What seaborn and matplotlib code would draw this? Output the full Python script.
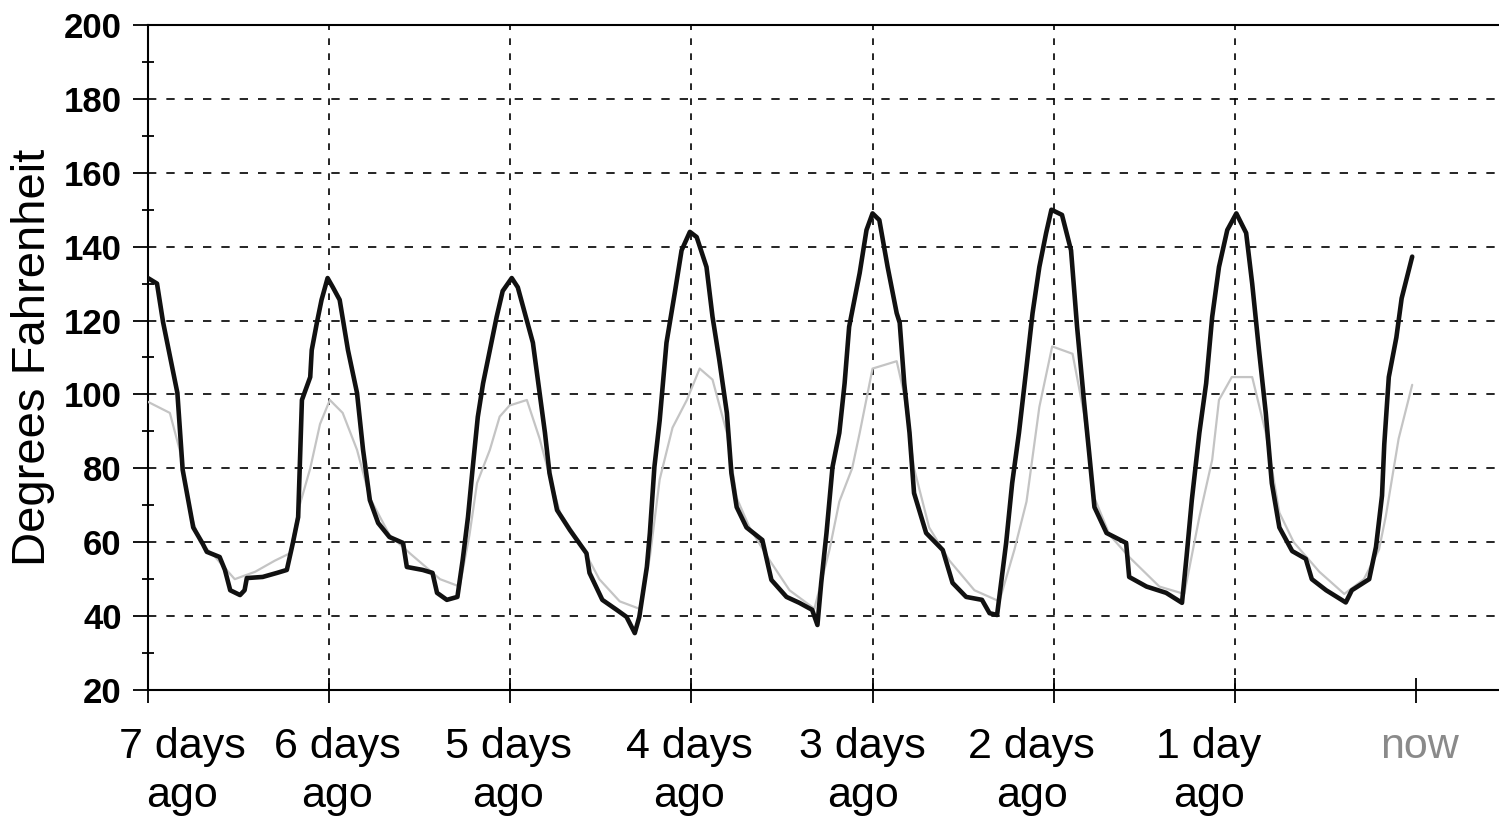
"""Seven-day temperature trace, redrawn with seaborn."""

import matplotlib

matplotlib.use("Agg")
import matplotlib.pyplot as plt
import matplotlib.ticker as mticker
import matplotlib.transforms as mtransforms
import seaborn as sns

# --- data (hours relative to now, degrees F) ---
main_hours = [
    -168.0, -166.8, -166.0, -164.1, -163.4, -162.0, -160.8, -160.2, -158.5, -157.8,
    -157.1, -155.8, -155.2, -154.9, -152.8, -150.9, -149.6, -148.8, -148.1, -147.9,
    -147.6, -146.5, -146.3, -145.6, -145.0, -144.2, -143.5, -142.6, -141.5, -140.3,
    -139.5, -138.6, -137.5, -136.0, -134.2, -133.7, -131.6, -130.3, -129.7, -128.4,
    -127.0, -126.3, -125.6, -125.0, -124.3, -123.6, -122.7, -121.8, -121.0, -119.8,
    -119.0, -117.8, -117.0, -116.1, -115.4, -114.8, -113.8, -112.1, -109.9, -109.5,
    -107.8, -105.9, -104.6, -103.5, -102.9, -101.9, -101.5, -100.9, -100.2, -99.3,
    -98.2, -97.3, -96.2, -95.3, -94.0, -93.2, -92.3, -91.3, -90.7, -90.0,
    -88.7, -86.6, -86.0, -85.4, -83.4, -81.7, -80.0, -79.3, -78.8, -78.1,
    -77.3, -76.4, -75.7, -75.1, -73.7, -72.8, -72.0, -71.1, -70.0, -68.8,
    -68.4, -67.8, -67.1, -66.5, -64.9, -62.7, -61.4, -59.6, -57.5, -56.5,
    -55.5, -54.3, -53.5, -52.6, -51.6, -50.8, -49.9, -49.0, -48.3, -46.9,
    -45.7, -44.9, -44.0, -43.3, -42.6, -41.0, -38.4, -38.0, -35.7, -33.1,
    -31.0, -30.4, -29.7, -28.7, -27.8, -27.0, -26.1, -25.0, -23.8, -22.5,
    -21.7, -20.8, -19.9, -19.1, -18.1, -16.4, -14.6, -13.8, -11.9, -9.3,
    -8.5, -6.2, -5.3, -4.5, -4.2, -3.6, -2.6, -1.9, -0.5,
]
main_temps = [
    131.5, 130.0, 119.6, 100.4, 79.6, 64.0, 59.8, 57.4, 56.0, 52.5,
    47.0, 45.7, 47.0, 50.3, 50.6, 51.7, 52.5, 59.8, 66.8, 79.6,
    98.5, 104.7, 112.0, 119.6, 125.6, 131.5, 129.0, 125.6, 112.0, 100.4,
    85.0, 71.4, 65.2, 61.4, 59.8, 53.3, 52.5, 51.7, 46.3, 44.4,
    45.2, 55.2, 66.8, 79.6, 93.9, 103.0, 112.0, 121.0, 128.0, 131.5,
    129.0, 120.0, 114.0, 100.4, 89.6, 78.7, 68.7, 63.3, 57.0, 51.7,
    44.4, 41.7, 39.8, 35.4, 39.8, 53.3, 62.5, 80.4, 93.0, 114.0,
    127.5, 139.0, 144.0, 142.6, 134.5, 121.0, 109.3, 95.0, 78.7, 69.5,
    64.0, 60.6, 55.2, 49.8, 45.2, 43.6, 41.7, 37.6, 49.0, 62.5,
    80.4, 89.6, 103.0, 118.3, 132.9, 144.5, 149.0, 147.2, 134.5, 122.0,
    119.4, 103.0, 89.6, 73.3, 62.5, 57.9, 49.0, 45.2, 44.4, 40.8,
    40.3, 59.8, 76.0, 89.6, 107.4, 122.0, 134.5, 143.7, 150.0, 148.6,
    139.0, 118.3, 98.5, 84.2, 69.5, 62.5, 59.8, 50.6, 48.0, 46.3,
    43.6, 56.0, 71.4, 89.6, 103.0, 121.0, 134.5, 144.5, 149.0, 143.7,
    130.0, 112.0, 95.0, 76.0, 64.0, 57.6, 55.5, 50.0, 47.0, 43.7,
    47.0, 50.0, 58.7, 72.6, 86.5, 104.7, 115.4, 126.0, 137.3,
]

faint_hours = [
    -168.0, -165.1, -163.8, -162.4, -161.1, -159.1, -156.5, -153.8, -151.2, -149.2,
    -147.9, -146.5, -145.2, -143.9, -142.2, -140.3, -138.6, -136.0, -133.3, -129.3,
    -126.7, -125.4, -124.4, -122.7, -121.4, -120.1, -117.8, -116.1, -114.8, -113.4,
    -110.8, -108.2, -105.5, -102.9, -101.5, -100.2, -98.5, -96.6, -94.9, -93.2,
    -91.3, -90.0, -88.3, -85.6, -83.0, -79.7, -77.7, -76.4, -74.7, -73.7,
    -72.0, -68.8, -67.8, -66.5, -64.5, -61.8, -58.5, -55.2, -53.2, -51.6,
    -49.9, -48.2, -45.5, -44.0, -42.6, -40.6, -38.0, -34.0, -30.7, -28.7,
    -27.0, -26.1, -24.4, -21.7, -19.9, -18.1, -16.2, -12.8, -9.5, -6.9,
    -4.9, -4.0, -2.3, -0.5,
]
faint_temps = [
    98.0, 95.0, 85.0, 68.0, 60.0, 56.0, 50.0, 52.0, 55.0, 57.0,
    70.0, 80.0, 92.0, 98.5, 95.0, 85.0, 72.0, 62.0, 57.0, 50.0,
    48.0, 62.0, 76.0, 85.0, 94.0, 97.0, 98.5, 88.0, 78.0, 68.0,
    60.0, 50.0, 44.0, 42.0, 56.0, 77.0, 91.0, 98.5, 107.0, 104.0,
    89.6, 72.0, 64.0, 55.0, 47.0, 42.0, 58.0, 71.0, 80.0, 89.6,
    107.0, 109.0, 100.0, 80.0, 64.0, 55.0, 47.0, 44.0, 58.0, 71.0,
    96.6, 113.0, 111.0, 95.0, 72.0, 62.0, 56.0, 48.0, 46.0, 66.8,
    82.3, 98.5, 104.7, 104.7, 89.6, 68.0, 60.0, 52.0, 46.0, 50.0,
    58.0, 67.0, 88.0, 102.6,
]

tick_hours = [-168, -144, -120, -96, -72, -48, -24, 0]
tick_labels = ["7 days\nago", "6 days\nago", "5 days\nago", "4 days\nago",
               "3 days\nago", "2 days\nago", "1 day\nago", "now"]
# horizontal nudge of each label (pixels), as in the original layout
label_shift = [34, 8, -2, -2, -10, -22, -26, 4]

sns.set_style("white")
plt.rcParams["font.family"] = ["Liberation Sans", "DejaVu Sans"]
plt.rcParams.update({
    "text.color": "black",
    "axes.labelcolor": "black",
    "xtick.color": "black",
    "ytick.color": "black",
})

fig = plt.figure(figsize=(14.99, 8.19), dpi=100)
ax = fig.add_axes([0.0987, 0.1575, 0.9013, 0.812])

sns.lineplot(x=faint_hours, y=faint_temps, ax=ax, color="#c4c4c4", linewidth=1.6,
             estimator=None, sort=False, zorder=3)
sns.lineplot(x=main_hours, y=main_temps, ax=ax, color="#111111", linewidth=3.3,
             estimator=None, sort=False, zorder=4)

ax.set_xlim(-168, 11)
ax.set_ylim(20, 200)

ax.set_xticks(tick_hours)
ax.set_xticklabels([])
ax.yaxis.set_major_locator(mticker.MultipleLocator(20))
ax.yaxis.set_minor_locator(mticker.MultipleLocator(10))

ax.grid(False)
for y in range(40, 200, 20):
    ax.axhline(y, color="black", linewidth=1.2, linestyle=(0, (5, 6)), zorder=1)
for x in tick_hours[1:-1]:
    ax.axvline(x, color="black", linewidth=1.2, linestyle=(0, (4, 5)), zorder=1)

for side in ("left", "bottom", "top"):
    ax.spines[side].set_visible(True)
    ax.spines[side].set_color("black")
    ax.spines[side].set_linewidth(1.5)
ax.spines["right"].set_visible(False)

ax.tick_params(axis="y", which="major", direction="out", length=11, width=1.3,
               pad=8, labelsize=25, left=True)
ax.tick_params(axis="y", which="minor", direction="inout", length=8, width=1.3,
               left=True)
ax.tick_params(axis="x", which="major", direction="inout", length=18, width=1.3,
               bottom=True)
for lbl in ax.get_yticklabels():
    lbl.set_fontweight("bold")

# x labels drawn as text so each can sit where the original put it
for hour, text, dx in zip(tick_hours, tick_labels, label_shift):
    offset = mtransforms.ScaledTranslation(dx / 100, -0.37, fig.dpi_scale_trans)
    ax.text(hour, 0, text, transform=ax.get_xaxis_transform() + offset,
            ha="center", va="top", fontsize=31, linespacing=1.28,
            color="#8a8a8a" if text == "now" else "black")

ax.set_ylabel("Degrees Fahrenheit", fontsize=34)
ax.yaxis.set_label_coords(-0.069, 0.5)
ax.set_xlabel("")

fig.savefig("out.png", dpi=100)
